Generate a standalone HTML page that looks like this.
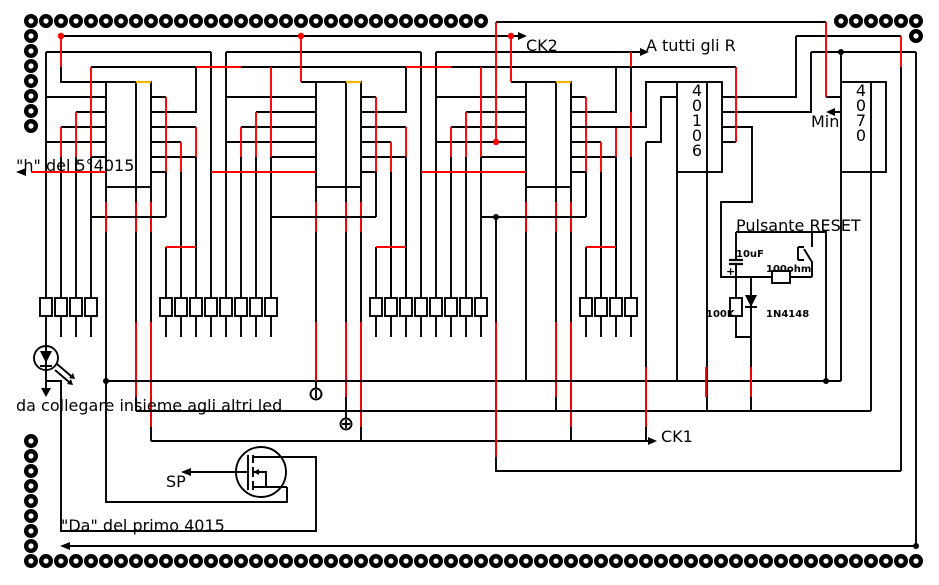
<!DOCTYPE html>
<html><head><meta charset="utf-8"><style>
html,body{margin:0;padding:0;background:#fff}
svg{display:block}
text{font-family:"DejaVu Sans","Liberation Sans",sans-serif;fill:#000}
</style></head><body>
<svg width="939" height="585" viewBox="0 0 939 585" xmlns="http://www.w3.org/2000/svg">
<defs>
<g id="pad"><circle r="4.8" fill="#fff" stroke="#000" stroke-width="4.4"/></g>
<g id="res"><rect x="-6" y="298" width="12" height="18" fill="#fff" stroke="#000" stroke-width="1.9"/></g>
<g id="chipR" fill="none" stroke="#000" stroke-width="1.9">
 <rect x="106" y="82" width="45" height="105"/>
 <line x1="136" y1="82" x2="136" y2="187"/>
 <line x1="136" y1="82" x2="151" y2="82" stroke="#f4b400" stroke-width="2.2"/>
 <path d="M151 97H166M151 172H166M151 112H196V67M151 127H196M151 142H181M151 157H196M196 157V298M181 172V298M166 172V217"/>
 <path d="M166 97V172M181 142V172M196 127V157" stroke="#f00"/>
 <path d="M106 187V381M136 187V411M151 187V441"/>
 <path d="M106 202V232M136 202V232M151 202V232M136 322V397M151 322V427" stroke="#f00"/>
</g>
</defs>

<g id="pads">
<use href="#pad" x="31" y="21"/><use href="#pad" x="46" y="21"/><use href="#pad" x="61" y="21"/><use href="#pad" x="76" y="21"/><use href="#pad" x="91" y="21"/><use href="#pad" x="106" y="21"/><use href="#pad" x="121" y="21"/><use href="#pad" x="136" y="21"/><use href="#pad" x="151" y="21"/><use href="#pad" x="166" y="21"/><use href="#pad" x="181" y="21"/><use href="#pad" x="196" y="21"/><use href="#pad" x="211" y="21"/><use href="#pad" x="226" y="21"/><use href="#pad" x="241" y="21"/><use href="#pad" x="256" y="21"/><use href="#pad" x="271" y="21"/><use href="#pad" x="286" y="21"/><use href="#pad" x="301" y="21"/><use href="#pad" x="316" y="21"/><use href="#pad" x="331" y="21"/><use href="#pad" x="346" y="21"/><use href="#pad" x="361" y="21"/><use href="#pad" x="376" y="21"/><use href="#pad" x="391" y="21"/><use href="#pad" x="406" y="21"/><use href="#pad" x="421" y="21"/><use href="#pad" x="436" y="21"/><use href="#pad" x="451" y="21"/><use href="#pad" x="466" y="21"/><use href="#pad" x="481" y="21"/>
<use href="#pad" x="841" y="21"/><use href="#pad" x="856" y="21"/><use href="#pad" x="871" y="21"/><use href="#pad" x="886" y="21"/><use href="#pad" x="901" y="21"/><use href="#pad" x="916" y="21"/><use href="#pad" x="916" y="36"/>
<use href="#pad" x="31" y="36"/><use href="#pad" x="31" y="51"/><use href="#pad" x="31" y="66"/><use href="#pad" x="31" y="81"/><use href="#pad" x="31" y="96"/><use href="#pad" x="31" y="111"/><use href="#pad" x="31" y="126"/>
<use href="#pad" x="31" y="441"/><use href="#pad" x="31" y="456"/><use href="#pad" x="31" y="471"/><use href="#pad" x="31" y="486"/><use href="#pad" x="31" y="501"/><use href="#pad" x="31" y="516"/><use href="#pad" x="31" y="531"/><use href="#pad" x="31" y="546"/>
<use href="#pad" x="31" y="561"/><use href="#pad" x="46" y="561"/><use href="#pad" x="61" y="561"/><use href="#pad" x="76" y="561"/><use href="#pad" x="91" y="561"/><use href="#pad" x="106" y="561"/><use href="#pad" x="121" y="561"/><use href="#pad" x="136" y="561"/><use href="#pad" x="151" y="561"/><use href="#pad" x="166" y="561"/><use href="#pad" x="181" y="561"/><use href="#pad" x="196" y="561"/><use href="#pad" x="211" y="561"/><use href="#pad" x="226" y="561"/><use href="#pad" x="241" y="561"/><use href="#pad" x="256" y="561"/><use href="#pad" x="271" y="561"/><use href="#pad" x="286" y="561"/><use href="#pad" x="301" y="561"/><use href="#pad" x="316" y="561"/><use href="#pad" x="331" y="561"/><use href="#pad" x="346" y="561"/><use href="#pad" x="361" y="561"/><use href="#pad" x="376" y="561"/><use href="#pad" x="391" y="561"/><use href="#pad" x="406" y="561"/><use href="#pad" x="421" y="561"/><use href="#pad" x="436" y="561"/><use href="#pad" x="451" y="561"/><use href="#pad" x="466" y="561"/><use href="#pad" x="481" y="561"/><use href="#pad" x="496" y="561"/><use href="#pad" x="511" y="561"/><use href="#pad" x="526" y="561"/><use href="#pad" x="541" y="561"/><use href="#pad" x="556" y="561"/><use href="#pad" x="571" y="561"/><use href="#pad" x="586" y="561"/><use href="#pad" x="601" y="561"/><use href="#pad" x="616" y="561"/><use href="#pad" x="631" y="561"/><use href="#pad" x="646" y="561"/><use href="#pad" x="661" y="561"/><use href="#pad" x="676" y="561"/><use href="#pad" x="691" y="561"/><use href="#pad" x="706" y="561"/><use href="#pad" x="721" y="561"/><use href="#pad" x="736" y="561"/><use href="#pad" x="751" y="561"/><use href="#pad" x="766" y="561"/><use href="#pad" x="781" y="561"/><use href="#pad" x="796" y="561"/><use href="#pad" x="811" y="561"/><use href="#pad" x="826" y="561"/><use href="#pad" x="841" y="561"/><use href="#pad" x="856" y="561"/><use href="#pad" x="871" y="561"/><use href="#pad" x="886" y="561"/><use href="#pad" x="901" y="561"/><use href="#pad" x="916" y="561"/>
</g>

<use href="#chipR"/>
<use href="#chipR" x="210"/>
<use href="#chipR" x="420"/>

<g fill="none" stroke="#000" stroke-width="1.9">
 <path d="M61 36H518M496 22H826M46 52H211M226 52H421M436 52H640M91 67H736M796 36H901M811 52H916"/>
 <path d="M61 67V82H106M46 52V298M46 97H106M46 142H106M76 112H106M61 127H106M91 157H106M76 157V298M61 157V298M91 157V298M91 217H166M211 52V298"/>
 <path d="M301 82H316M226 52V298M226 97H316M226 142H316M256 112H316M241 127H316M271 157H316M256 157V298M241 157V298M271 157V298M271 217H376M421 52V298M166 247V298"/>
 <path d="M511 82H526M436 52V298M436 97H526M436 142H526M466 112H526M451 127H526M481 157H526M466 157V298M451 157V298M481 157V298M481 217H586M586 172V217M376 247V298M631 52V298M586 247V298M571 127H646V82H677M646 142H661V97H677M646 142V441"/>
 <path d="M46 316V337M61 316V337M76 316V337M91 316V337M166 316V337M181 316V337M196 316V337M211 316V337M226 316V337M241 316V337M256 316V337M271 316V337M376 316V337M391 316V337M406 316V337M421 316V337M436 316V337M451 316V337M466 316V337M481 316V337M586 316V337M601 316V337M616 316V337M631 316V337"/>
 <path d="M391 172V298M406 157V298M601 172V298M616 157V298"/>
 <rect x="677" y="82" width="45" height="90"/>
 <path d="M707 82V172M722 97H796V36M722 112H811V52M722 127H752V202H721V277H812M722 142H736M677 172V381M707 172V411"/>
 <rect x="841" y="82" width="45" height="90"/>
 <path d="M871 82V172M841 52V82M826 97H841M841 172V381M871 172V411M901 67V471M916 52V546"/>
 <path d="M46 381H61V531H316V457H287M106 381H841M136 411H871M151 441H648M496 217V471H901M69 546H916M106 381V502H287V487"/>
 <path d="M736 232H826V381M736 232V260M736 264V298M736 316V337H751M751 277V411M812 232V247M812 277V262L804 249M798 247V260M798 247H804M798 260H804"/>
 <rect x="772" y="271" width="18" height="12" fill="#fff"/>
 <rect x="730" y="298" width="12" height="18" fill="#fff"/>
 <path d="M729 260H743M729 264H743" stroke-width="2.2"/>
 <circle cx="261" cy="472" r="25"/>
 <path d="M248 455V490M253 455V463M253 467V477M253 481V490M253 457H316M253 487H287M253 472H266V487M190 472H248"/>
 <circle cx="46" cy="358" r="12"/>
 <path d="M46 337V388M40 366H52M57 364L71 376M55 370L69 382"/>
 <circle cx="316" cy="394" r="5.5"/><path d="M316 390V398"/>
 <circle cx="346" cy="424" r="5.5"/><path d="M346 420V428M342 424H350"/>
 <path d="M316 381V388M346 411V418"/>
</g>

<g>
<use href="#res" x="46"/><use href="#res" x="61"/><use href="#res" x="76"/><use href="#res" x="91"/>
<use href="#res" x="166"/><use href="#res" x="181"/><use href="#res" x="196"/><use href="#res" x="211"/><use href="#res" x="226"/><use href="#res" x="241"/><use href="#res" x="256"/><use href="#res" x="271"/>
<use href="#res" x="376"/><use href="#res" x="391"/><use href="#res" x="406"/><use href="#res" x="421"/><use href="#res" x="436"/><use href="#res" x="451"/><use href="#res" x="466"/><use href="#res" x="481"/>
<use href="#res" x="586"/><use href="#res" x="601"/><use href="#res" x="616"/><use href="#res" x="631"/>
</g>

<g fill="none" stroke="#f00" stroke-width="1.9">
 <path d="M61 36V67M301 36V82M511 36V82M496 22V142M826 22V97M901 36V67"/>
 <path d="M76 112V157M61 127V157M91 67V157M256 112V157M241 127V157M271 67V157M466 112V157M451 127V157M481 67V157"/>
 <path d="M196 67H241M406 67H451M31 172H106M211 172H316M421 172H526M736 67V142"/>
 <path d="M166 247H196M376 247H406M586 247H616M631 52V67M631 112V157"/>
 <path d="M496 322V457M646 367V427M706 367V397M751 367V397M316 322V381M106 202V232"/>
</g>

<g fill="#f00"><circle cx="61" cy="36" r="3.2"/><circle cx="301" cy="36" r="3.2"/><circle cx="511" cy="36" r="3.2"/><circle cx="496" cy="142" r="3.2"/></g>
<g fill="#000"><circle cx="106" cy="381" r="3"/><circle cx="826" cy="381" r="3"/><circle cx="496" cy="217" r="3"/><circle cx="841" cy="52" r="3"/><circle cx="916" cy="546" r="3"/></g>

<g fill="#000">
 <path d="M527 36L518 32V40Z"/>
 <path d="M649 52L640 48V56Z"/>
 <path d="M16 172L26 168V176Z"/>
 <path d="M826 112L835 108V116Z"/><path d="M835 112H841" stroke="#000" stroke-width="1.9"/>
 <path d="M657 441L648 437V445Z"/>
 <path d="M60 546L70 542V550Z"/>
 <path d="M181 472L191 468V476Z"/>
 <path d="M46 397L41 388H51Z"/>
 <path d="M40 351H52L46 363Z"/>
 <path d="M75 379L69 378L73 373Z"/><path d="M73 385L67 384L71 379Z"/>
 <path d="M745 295H757L751 307Z"/><path d="M745 307H757" stroke="#000" stroke-width="1.9"/>
 <path d="M253 472L259 469V475Z"/>
</g>

<g font-size="16">
 <text x="16" y="171">"h" del 5°4015</text>
 <text x="526" y="51">CK2</text>
 <text x="646" y="51">A tutti gli R</text>
 <text x="811" y="127">Min</text>
 <text x="736" y="231">Pulsante RESET</text>
 <text x="16" y="411">da collegare insieme agli altri led</text>
 <text x="661" y="442">CK1</text>
 <text x="166" y="487">SP</text>
 <text x="61" y="531">"Da" del primo 4015</text>
</g>
<g font-size="16" text-anchor="middle">
 <text x="697" y="96">4</text><text x="697" y="111">0</text><text x="697" y="126">1</text><text x="697" y="141">0</text><text x="697" y="156">6</text>
 <text x="861" y="96">4</text><text x="861" y="111">0</text><text x="861" y="126">7</text><text x="861" y="141">0</text>
</g>
<g font-size="10" font-weight="bold">
 <text x="736" y="257">10uF</text>
 <text x="766" y="272">100ohm</text>
 <text x="706" y="317">100K</text>
 <text x="766" y="317">1N4148</text>
 <text x="726" y="275" font-size="11">+</text>
</g>
</svg>
</body></html>
